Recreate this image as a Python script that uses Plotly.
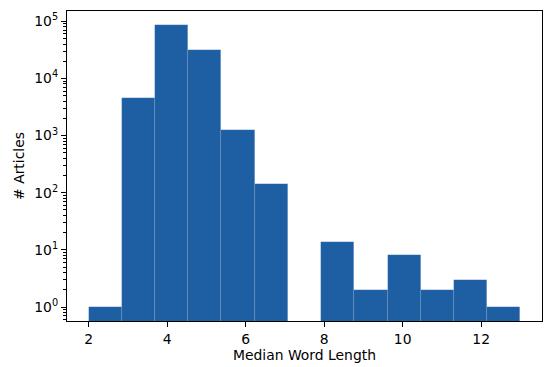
import plotly.graph_objects as go
import numpy as np

# Histogram: 13 equal bins between 2 and 13
bin_start = 2.0
bin_end = 13.0
n_bins = 13
counts = [1, 4570, 84700, 31400, 1240, 143, 0, 14, 2, 8, 2, 3, 1]
x_ticks = [2, 4, 6, 8, 10, 12]
y_tickvals = [1, 10, 100, 1000, 10000, 100000]
y_ticktext = ["10<sup>0</sup>", "10<sup>1</sup>", "10<sup>2</sup>", "10<sup>3</sup>", "10<sup>4</sup>", "10<sup>5</sup>"]

edges = np.linspace(bin_start, bin_end, n_bins + 1)
width = edges[1] - edges[0]
centers = (edges[:-1] + edges[1:]) / 2
yvals = [c if c > 0 else None for c in counts]

fig = go.Figure(go.Bar(
    x=centers, y=yvals, width=[width] * n_bins,
    marker=dict(color="#1d5fa2", line=dict(color="rgba(255,255,255,0.15)", width=0.6)),
))

font = "DejaVu Sans"
fig.update_layout(
    width=547, height=367,
    margin=dict(l=67, r=5, t=11, b=46),
    plot_bgcolor="white", paper_bgcolor="white",
    showlegend=False, bargap=0,
    font=dict(family=font, size=13.9, color="black"),
)
fig.update_xaxes(
    range=[1.45, 13.55], tickvals=x_ticks,
    tickfont=dict(size=13.9),
    showline=True, linecolor="black", linewidth=1.1, mirror=True,
    ticks="outside", ticklen=5, tickwidth=1.1, tickcolor="black",
    showgrid=False, zeroline=False,
    title=dict(text="Median Word Length", standoff=4, font=dict(size=13.9)),
)
fig.update_yaxes(
    type="log", range=[-0.245, 5.18],
    tickvals=y_tickvals, ticktext=y_ticktext,
    tickfont=dict(size=13.9),
    showline=True, linecolor="black", linewidth=1.1, mirror=True,
    ticks="outside", ticklen=5, tickwidth=1.1, tickcolor="black",
    showgrid=False, zeroline=False,
    minor=dict(ticks="outside", ticklen=2.8, tickwidth=0.8, tickcolor="black", dtick="D1", showgrid=False),
    title=dict(text="# Articles", standoff=6, font=dict(size=13.9)),
)

fig.write_html("out.html")
